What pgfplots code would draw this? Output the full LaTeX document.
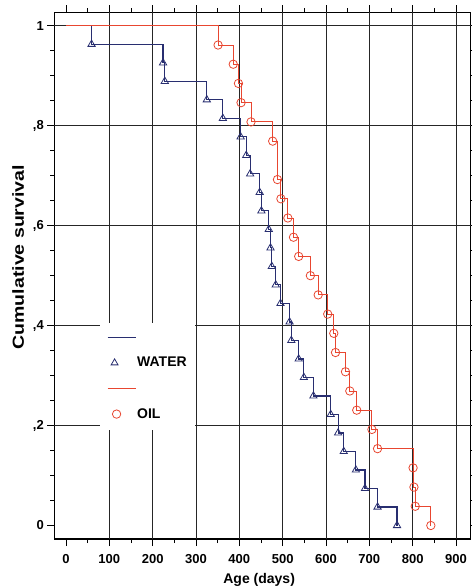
\documentclass[border=0pt]{standalone}
\usepackage{pgfplots}
\pgfplotsset{compat=1.18}
\usepackage{fontspec}
\setmainfont{Liberation Sans}
\definecolor{wblue}{RGB}{40,46,112}
\definecolor{ored}{RGB}{232,70,48}
\pgfplotsset{
  lineleg/.style={legend image code/.code={\path[draw=none,fill=none] (0bp,-5bp) rectangle (28bp,5bp); \draw[##1] (0bp,0bp) -- (28bp,0bp);}},
  markleg/.style={legend image code/.code={\path[draw=none,fill=none] (0bp,-5bp) rectangle (28bp,5bp); \draw[##1] plot coordinates {(#1,0bp)};}},
}
\begin{document}
\begin{tikzpicture}
\begin{axis}[
  name=ax, at={(0,0)}, anchor=south west,
  scale only axis, width=416.4bp, height=526.7bp,
  xmin=-27, xmax=934, ymin=-0.027, ymax=1.027,
  xtick={0,100,200,300,400,500,600,700,800,900},
  xticklabels={\textbf{0},\textbf{100},\textbf{200},\textbf{300},\textbf{400},\textbf{500},\textbf{600},\textbf{700},\textbf{800},\textbf{900}},
  ytick={0,0.2,0.4,0.6,0.8,1}, yticklabels={\textbf{0},\textbf{,2},\textbf{,4},\textbf{,6},\textbf{,8},\textbf{1}},
  minor x tick num=1, minor y tick num=3,
  tick align=outside, major tick length=7bp, minor tick length=4bp,
  every tick/.style={black, line width=0.8pt},
  axis line style={black, line width=1.1pt},
  extra x ticks={100,200,300,400,500,600,700,800,900}, extra x tick labels={},
  extra y ticks={0.2,0.4,0.6,0.8,1}, extra y tick labels={},
  extra tick style={grid=major, major tick length=0pt},
  major grid style={black!85, line width=0.9pt},
  tick label style={font=\bfseries\fontsize{13bp}{15bp}\selectfont},
  xticklabel style={yshift=-5bp},
  xlabel={Age (days)}, ylabel={\scalebox{1.22}[1]{Cumulative survival}},
  label style={font=\bfseries\fontsize{14bp}{16bp}\selectfont},
  xlabel style={at={(axis description cs:0.492,-0.078)}, anchor=center},
  ylabel style={at={(axis description cs:-0.087,0.535)}, anchor=center, font=\bfseries\fontsize{16bp}{18bp}\selectfont},
  legend style={at={(axis cs:78,0.405)}, anchor=north west, draw=none, fill=white,
    font=\bfseries\fontsize{14bp}{16bp}\selectfont, inner xsep=7bp, inner ysep=9bp,
    row sep=14bp, nodes={inner sep=1bp}},
  legend cell align=left,
]
% legend
\addlegendimage{wblue, line width=1.2pt, lineleg}
\addlegendentry{}
\addlegendimage{wblue, line width=0.8pt, mark=triangle, mark size=4bp, markleg=7bp}
\addlegendentry{WATER}
\addlegendimage{ored, line width=0.9pt, lineleg}
\addlegendentry{}
\addlegendimage{ored, line width=0.8pt, mark=o, mark size=4.2bp, markleg=9bp}
\addlegendentry{OIL}

% WATER
\addplot[wblue, line width=1.2pt, const plot, no markers, forget plot] table {
x y
0 1
59 0.9630
224 0.9259
228 0.8889
325 0.8519
362 0.8148
403 0.7778
416 0.7407
425 0.7037
447 0.6667
451 0.6296
468 0.5926
472 0.5556
475 0.5185
484 0.4815
495 0.4444
516 0.4074
520 0.3704
537 0.3333
549 0.2963
571 0.2593
611 0.2222
628 0.1852
641 0.1481
669 0.1111
690 0.0741
719 0.0370
764 0
};
\addplot[wblue, only marks, mark=triangle, mark size=4.2bp, line width=0.8pt, forget plot] table {
x y
59 0.9630
224 0.9259
228 0.8889
325 0.8519
362 0.8148
403 0.7778
416 0.7407
425 0.7037
447 0.6667
451 0.6296
468 0.5926
472 0.5556
475 0.5185
484 0.4815
495 0.4444
516 0.4074
520 0.3704
537 0.3333
549 0.2963
571 0.2593
611 0.2222
628 0.1852
641 0.1481
669 0.1111
690 0.0741
719 0.0370
764 0
};
% OIL
\addplot[ored, line width=0.9pt, const plot, no markers, forget plot] table {
x y
0 1
351 0.9615
386 0.9231
398 0.8846
404 0.8462
427 0.8077
477 0.7692
488 0.6923
496 0.6538
512 0.6154
525 0.5769
537 0.5385
564 0.5000
582 0.4615
604 0.4231
618 0.3846
622 0.3462
645 0.3077
655 0.2692
671 0.2308
706 0.1923
719 0.1538
801 0.1154
803 0.0769
806 0.0385
842 0
};
\addplot[ored, only marks, mark=o, mark size=4.2bp, line width=0.8pt, forget plot] table {
x y
351 0.9615
386 0.9231
398 0.8846
404 0.8462
427 0.8077
477 0.7692
488 0.6923
496 0.6538
512 0.6154
525 0.5769
537 0.5385
564 0.5000
582 0.4615
604 0.4231
618 0.3846
622 0.3462
645 0.3077
655 0.2692
671 0.2308
706 0.1923
719 0.1538
801 0.1154
803 0.0769
806 0.0385
842 0
};
\end{axis}
\pgfresetboundingbox
\path[use as bounding box] ([shift={(-54.3bp,-49bp)}]ax.south west) rectangle ([shift={(1.3bp,12.3bp)}]ax.north east);
\end{tikzpicture}
\end{document}
